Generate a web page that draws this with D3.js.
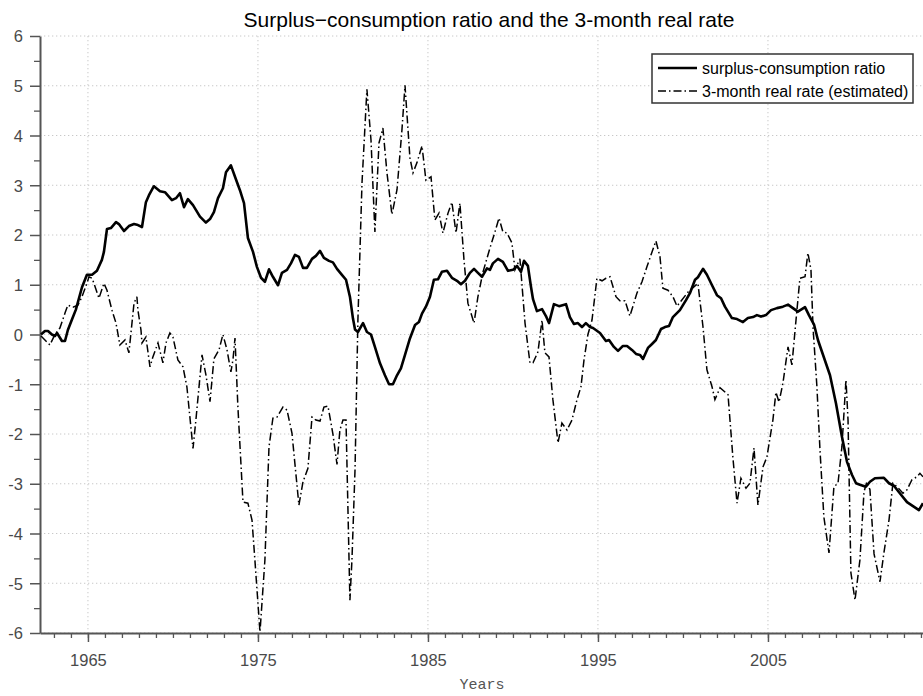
<html>
<head>
<script src="https://d3js.org/d3.v7.min.js"></script>
<style>
    body { margin: 0; background: #fff; }
    svg { display: block; }
    .tick text { font-family: "Liberation Sans", Arial, sans-serif; }
</style>
</head>
<body>
<svg id='the-chart' width=923 height=696></svg>
<script>

    // surplus-consumption ratio (solid)
    var scYears = [1962.24,1962.47,1962.65,1962.88,1963.06,1963.18,1963.47,1963.65,1963.82,1964.06,1964.29,1964.65,1964.94,
        1965.24,1965.53,1965.82,1965.94,1966.12,1966.35,1966.65,1966.82,1967.12,1967.41,1967.71,1967.94,1968.18,1968.41,1968.59,1968.88,
        1969.24,1969.53,1969.94,1970.18,1970.41,1970.65,1970.88,1971.18,1971.59,1971.94,1972.18,1972.41,1972.65,1972.94,
        1973.12,1973.41,1973.65,1973.94,1974.18,1974.41,1974.71,1974.94,1975.18,1975.41,1975.65,1975.88,1976.18,1976.41,1976.71,1976.94,
        1977.18,1977.41,1977.65,1977.88,1978.18,1978.41,1978.65,1978.88,1979.18,1979.41,1979.65,1979.94,1980.18,1980.41,1980.59,1980.71,1980.88,
        1981.18,1981.41,1981.65,1981.88,1982.18,1982.47,1982.71,1982.94,1983.18,1983.41,1983.65,1983.94,1984.24,1984.47,1984.65,1984.88,
        1985.12,1985.35,1985.59,1985.82,1986.12,1986.41,1986.71,1986.94,1987.18,1987.47,1987.71,1987.94,1988.18,1988.47,1988.65,1988.82,
        1989.12,1989.41,1989.71,1990.0,1990.24,1990.47,1990.65,1990.88,1991.06,1991.18,1991.41,1991.71,1991.94,1992.12,1992.41,1992.71,
        1993.12,1993.35,1993.59,1993.82,1994.06,1994.29,1994.53,1994.71,1995.12,1995.47,1995.65,1995.94,1996.18,1996.47,1996.71,
        1997.0,1997.24,1997.47,1997.65,1997.94,1998.18,1998.41,1998.71,1998.94,1999.18,1999.41,1999.82,2000.18,2000.41,2000.71,2000.88,
        2001.18,2001.41,2001.71,2002.0,2002.24,2002.47,2002.88,2003.18,2003.53,2003.82,2004.12,2004.35,2004.59,2004.88,
        2005.18,2005.53,2005.88,2006.18,2006.47,2006.76,2007.18,2007.41,2007.71,2007.94,2008.65,2009.0,2009.35,2009.65,2009.94,
        2010.18,2010.41,2010.76,2011.0,2011.29,2011.82,2012.12,2012.41,2012.71,2013.18,2013.53,2013.88,2014.12];
    var scValues = [0.0,0.07,0.07,0.0,-0.03,0.03,-0.13,-0.13,0.09,0.3,0.5,0.95,1.2,
        1.2,1.28,1.5,1.66,2.12,2.14,2.26,2.22,2.08,2.18,2.22,2.2,2.16,2.66,2.8,2.98,
        2.88,2.86,2.7,2.74,2.84,2.56,2.72,2.6,2.37,2.25,2.32,2.46,2.74,2.94,
        3.26,3.4,3.17,2.9,2.64,1.94,1.66,1.36,1.14,1.06,1.31,1.16,0.99,1.24,1.3,1.43,
        1.6,1.56,1.34,1.34,1.52,1.58,1.68,1.54,1.48,1.45,1.32,1.2,1.1,0.76,0.32,0.1,0.05,
        0.23,0.05,0.0,-0.25,-0.58,-0.82,-1.0,-1.0,-0.82,-0.68,-0.41,-0.08,0.19,0.25,0.42,0.56,
        0.76,1.1,1.11,1.26,1.28,1.14,1.08,1.01,1.08,1.24,1.32,1.24,1.16,1.33,1.3,1.43,
        1.52,1.46,1.28,1.3,1.38,1.26,1.48,1.38,0.96,0.71,0.47,0.51,0.37,0.23,0.61,0.57,
        0.61,0.35,0.21,0.23,0.15,0.23,0.15,0.13,0.03,-0.13,-0.11,-0.25,-0.33,-0.23,-0.23,
        -0.31,-0.39,-0.41,-0.49,-0.27,-0.19,-0.11,0.11,0.15,0.17,0.35,0.49,0.69,0.83,1.1,1.15,
        1.32,1.2,0.99,0.79,0.73,0.56,0.33,0.31,0.25,0.33,0.35,0.39,0.36,0.39,
        0.49,0.53,0.56,0.6,0.53,0.46,0.55,0.39,0.2,-0.11,-0.82,-1.38,-2.05,-2.56,-2.82,
        -2.99,-3.02,-3.06,-2.96,-2.89,-2.88,-2.99,-3.04,-3.17,-3.37,-3.45,-3.53,-3.39];

    // 3-month real rate, estimated (dash-dot)
    var rrYears = [1962.24,1962.76,1963.06,1963.35,1963.65,1963.82,1964.12,1964.41,1964.65,1964.94,1965.06,1965.24,1965.35,
        1965.65,1965.94,1966.12,1966.41,1966.65,1966.88,1967.18,1967.41,1967.59,1967.71,1967.88,1967.94,1968.12,1968.18,
        1968.41,1968.65,1968.82,1969.12,1969.41,1969.59,1969.82,1970.0,1970.29,1970.59,1970.82,1971.18,1971.35,1971.71,
        1971.94,1972.18,1972.41,1972.71,1972.94,1973.18,1973.41,1973.53,1973.65,1973.82,1974.12,1974.41,1974.65,1974.82,
        1975.12,1975.41,1975.65,1975.88,1976.12,1976.47,1976.71,1977.0,1977.41,1977.65,1977.94,1978.18,1978.41,1978.65,
        1978.88,1979.12,1979.41,1979.65,1979.82,1980.0,1980.18,1980.41,1980.53,1980.71,1980.88,1981.12,1981.41,1981.65,
        1981.88,1982.12,1982.35,1982.59,1982.88,1983.18,1983.47,1983.65,1983.94,1984.12,1984.35,1984.65,1984.88,1985.18,
        1985.41,1985.65,1985.88,1986.18,1986.41,1986.65,1986.88,1987.12,1987.35,1987.71,1987.94,1988.24,1988.65,1988.94,
        1989.18,1989.41,1989.65,1989.94,1990.12,1990.41,1990.71,1991.0,1991.18,1991.47,1991.71,1991.88,1992.12,1992.35,
        1992.65,1992.88,1993.18,1993.47,1993.76,1994.0,1994.18,1994.41,1994.65,1994.94,1995.24,1995.47,1995.71,1996.06,
        1996.29,1996.59,1996.88,1997.29,1997.59,1997.88,1998.18,1998.41,1998.65,1998.82,1999.12,1999.41,1999.65,2000.29,
        2000.88,2001.18,2001.41,2001.71,2001.88,2002.18,2002.65,2002.94,2003.18,2003.41,2003.71,2003.94,2004.18,2004.41,
        2004.71,2004.94,2005.29,2005.47,2005.65,2005.88,2006.18,2006.41,2006.65,2006.88,2007.18,2007.35,2007.53,2007.65,
        2007.88,2008.06,2008.29,2008.59,2008.88,2009.12,2009.35,2009.59,2009.71,2009.88,2010.12,2010.41,2010.65,2010.82,
        2011.0,2011.24,2011.59,2011.82,2012.12,2012.35,2012.59,2012.94,2013.18,2013.47,2013.76,2013.94,2014.12];
    var rrValues = [-0.03,-0.21,0.0,0.13,0.43,0.59,0.55,0.59,0.76,1.03,1.16,1.13,1.03,
        0.73,1.03,0.89,0.49,0.23,-0.21,-0.11,-0.37,0.23,0.63,0.76,0.49,0.09,-0.17,
        -0.05,-0.65,-0.45,-0.17,-0.57,-0.17,0.03,-0.05,-0.51,-0.65,-1.05,-2.29,-1.72,-0.41,
        -0.81,-1.35,-0.49,-0.31,0.0,-0.31,-0.75,-0.51,-0.07,-1.45,-3.37,-3.39,-3.73,-4.53,
        -5.98,-4.53,-2.26,-1.68,-1.66,-1.46,-1.52,-1.98,-3.43,-2.96,-2.69,-1.66,-1.72,-1.74,
        -1.46,-1.44,-2.0,-2.61,-1.92,-1.72,-1.72,-5.34,-4.53,-2.72,0.29,3.04,4.93,3.91,
        2.06,3.85,4.15,3.25,2.41,2.91,4.11,5.01,3.55,3.25,3.45,3.79,3.1,3.17,
        2.3,2.44,2.04,2.44,2.66,2.04,2.64,1.5,0.63,0.23,0.76,1.26,1.74,2.06,
        2.34,2.06,2.04,1.84,1.3,1.52,0.23,-0.57,-0.57,-0.35,0.29,-0.37,-0.45,-1.31,
        -2.18,-1.78,-1.92,-1.72,-1.32,-1.05,-0.51,0.0,0.29,1.13,1.08,1.13,1.16,0.76,
        0.68,0.68,0.37,0.83,1.06,1.36,1.66,1.88,1.56,0.93,0.89,0.76,0.57,0.85,
        1.03,0.15,-0.71,-1.05,-1.31,-1.07,-1.21,-2.48,-3.39,-2.89,-3.09,-2.99,-2.28,-3.43,
        -2.66,-2.46,-1.72,-1.16,-1.36,-0.98,-0.25,-0.61,0.29,1.13,1.16,1.64,1.3,0.15,
        -1.05,-2.32,-3.67,-4.39,-3.06,-2.99,-2.26,-0.91,-1.72,-4.79,-5.34,-4.53,-3.16,-2.96,
        -3.12,-4.41,-4.97,-4.39,-3.73,-2.99,-3.06,-3.19,-3.12,-2.92,-2.86,-2.79,-2.86];

    var yTicks = [-6,-5,-4,-3,-2,-1,0,1,2,3,4,5,6];
    var xTicks = [1965,1975,1985,1995,2005];
    var legendLabels = ['surplus-consumption ratio', '3-month real rate (estimated)'];
    var titleText = 'Surplus\u2212consumption ratio and the 3-month real rate';
    var xLabel = 'Years';

    var svg = d3.select('#the-chart');
    var margin = { top:36, left:40, right:0, bottom:63 };
    var width = +svg.attr('width') - margin.left - margin.right;
    var height = +svg.attr('height') - margin.top - margin.bottom;
    var axisColor = '#555';
    var dashDot = '8,3,1.5,3';

    var x = d3.scaleLinear().domain([1962.18, 2014.12]).range([0, width]);
    var y = d3.scaleLinear().domain([-6, 6]).range([height, 0]);

    var g = svg.append('g')
        .attr('transform', 'translate(' + margin.left + ',' + margin.top + ')');

    g.append('clipPath').attr('id', 'plot-clip')
      .append('rect').attr('x', 0).attr('y', -2).attr('width', width).attr('height', height + 4);

    // grid
    g.append('g').selectAll('line.hg').data(yTicks).enter().append('line')
        .attr('x1', 0).attr('x2', width)
        .attr('y1', function(d) { return y(d); }).attr('y2', function(d) { return y(d); })
        .attr('stroke', '#c8c8c8').attr('stroke-dasharray', '1.3,2.7');
    g.append('g').selectAll('line.vg').data(xTicks).enter().append('line')
        .attr('y1', 0).attr('y2', height)
        .attr('x1', function(d) { return x(d); }).attr('x2', function(d) { return x(d); })
        .attr('stroke', '#c8c8c8').attr('stroke-dasharray', '1.3,2.7');

    // minor ticks
    var xMinor = d3.range(1963, 2015).filter(function(d) { return x(d) >= 0 && x(d) <= width; });
    g.append('g').attr('transform', 'translate(0,' + height + ')')
        .call(d3.axisBottom(x).tickValues(xMinor).tickSize(5).tickFormat(''))
        .call(function(a) { a.select('.domain').remove(); a.selectAll('line').attr('stroke', axisColor).attr('stroke-width', 1.3); });
    var yMinor = d3.range(-5.5, 6, 1);
    g.append('g')
        .call(d3.axisLeft(y).tickValues(yMinor).tickSize(6).tickFormat(''))
        .call(function(a) { a.select('.domain').remove(); a.selectAll('line').attr('stroke', axisColor).attr('stroke-width', 1.3); });

    // main axes
    var fmt = function(d) { return String(d); };
    var xAxis = g.append('g').attr('transform', 'translate(0,' + height + ')')
        .call(d3.axisBottom(x).tickValues(xTicks).tickSize(9).tickSizeOuter(0).tickPadding(12).tickFormat(fmt));
    var yAxis = g.append('g')
        .call(d3.axisLeft(y).tickValues(yTicks).tickSize(10).tickSizeOuter(0).tickPadding(7).tickFormat(fmt));
    [xAxis, yAxis].forEach(function(a) {
        a.select('.domain').attr('stroke', axisColor).attr('stroke-width', 2);
        a.selectAll('line').attr('stroke', axisColor).attr('stroke-width', 1.5);
        a.selectAll('text').attr('fill', '#4a4a4a').style('font-size', '16.5px');
    });
    yAxis.selectAll('text').attr('dy', '0.36em');

    // lines
    var line = d3.line()
        .x(function(d) { return x(d[0]); })
        .y(function(d) { return y(d[1]); });
    var scData = scYears.map(function(t, i) { return [t, scValues[i]]; });
    var rrData = rrYears.map(function(t, i) { return [t, rrValues[i]]; });

    var plot = g.append('g').attr('clip-path', 'url(#plot-clip)');
    plot.append('path').datum(rrData)
        .attr('d', line).attr('fill', 'none').attr('stroke', '#000')
        .attr('stroke-width', 1.5).attr('stroke-dasharray', dashDot);
    plot.append('path').datum(scData)
        .attr('d', line).attr('fill', 'none').attr('stroke', '#000')
        .attr('stroke-width', 2.6).attr('stroke-linejoin', 'round');

    // title and x label
    svg.append('text')
        .attr('x', 489).attr('y', 27)
        .attr('text-anchor', 'middle')
        .style('font-family', '"Liberation Sans", Arial, sans-serif')
        .style('font-size', '21px')
        .text(titleText);
    svg.append('text')
        .attr('x', 482).attr('y', 689)
        .attr('text-anchor', 'middle')
        .attr('fill', '#555')
        .style('font-family', '"Liberation Mono", "Courier New", monospace')
        .style('font-size', '15px')
        .text(xLabel);

    // legend
    var leg = svg.append('g').attr('transform', 'translate(652,54)');
    leg.append('rect').attr('width', 261).attr('height', 49)
        .attr('fill', '#fff').attr('stroke', '#333').attr('stroke-width', 1.5);
    var legStyles = [{ w: 2.6, dash: null }, { w: 1.5, dash: dashDot }];
    legendLabels.forEach(function(lbl, i) {
        var yy = 14 + i * 23;
        leg.append('line').attr('x1', 6).attr('x2', 45).attr('y1', yy).attr('y2', yy)
            .attr('stroke', '#000').attr('stroke-width', legStyles[i].w)
            .attr('stroke-dasharray', legStyles[i].dash);
        leg.append('text').attr('x', 50).attr('y', yy).attr('dy', '0.35em')
            .style('font-family', '"Liberation Sans", Arial, sans-serif')
            .style('font-size', '16px')
            .text(lbl);
    });

</script>
</body>
</html>
